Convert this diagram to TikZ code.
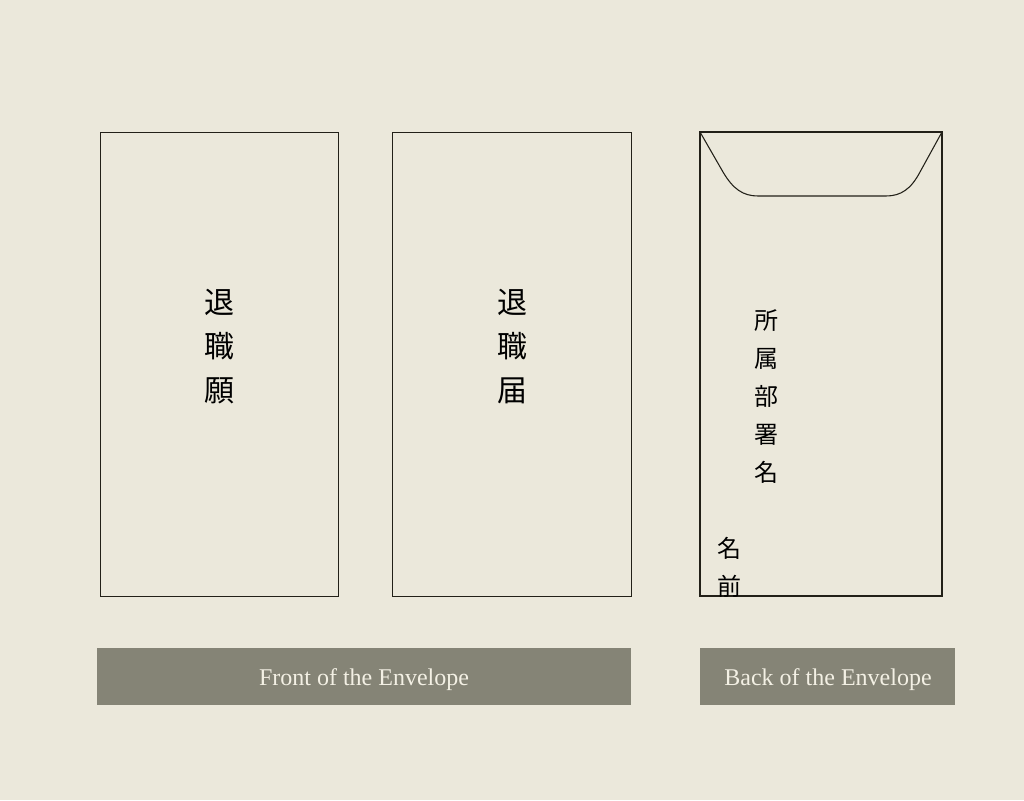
\documentclass[tikz,border=0pt]{standalone}
\usepackage{fontspec}
\setmainfont{Liberation Serif}
\newfontfamily\cjk{Noto Sans CJK JP}
\definecolor{bg}{HTML}{EBE8DB}
\definecolor{band}{HTML}{858476}
\definecolor{bandtext}{HTML}{F3F0E4}
\definecolor{ink}{HTML}{222018}
\begin{document}
\begin{tikzpicture}[x=0.75pt,y=-0.75pt,
  env/.style={draw=ink,line width=0.6pt},
  banner/.style={fill=band,draw=none},
  bandlabel/.style={text=bandtext,font=\fontsize{18}{22}\selectfont},
  bigv/.style={align=center,inner sep=0pt,font=\cjk\fontsize{22.5}{33}\selectfont},
  smallv/.style={align=center,inner sep=0pt,font=\cjk\fontsize{18}{28.5}\selectfont}]
\fill[bg] (0,0) rectangle (1024,800);
\useasboundingbox (0,0) rectangle (1024,800);
% envelopes
\draw[env] (100,132) rectangle (338,596);
\draw[env] (392,132) rectangle (631,596);
\draw[env,line width=0.8pt] (700,132) rectangle (942,596);
% flap
\draw[env,line width=0.8pt] (700,132) -- (723,172) .. controls (733,189) and (743,196) .. (758,196)
  -- (886,196) .. controls (901,196) and (911,189) .. (920,172) -- (942,132);
% texts
\node[bigv] (t1) at (219,347) {退\\職\\願};
\node[bigv] (t2) at (512,347) {退\\職\\届};
\node[smallv] (t3) at (766,397) {所\\属\\部\\署\\名};
\node[smallv] (t4) at (729,567) {名\\前};
% banners
\fill[banner] (97,648) rectangle (631,705);
\fill[banner] (700,648) rectangle (955,705);
\node[bandlabel] (b1) at (364,680) {Front of the Envelope};
\node[bandlabel] (b2) at (828,680) {Back of the Envelope};
\end{tikzpicture}
\end{document}
